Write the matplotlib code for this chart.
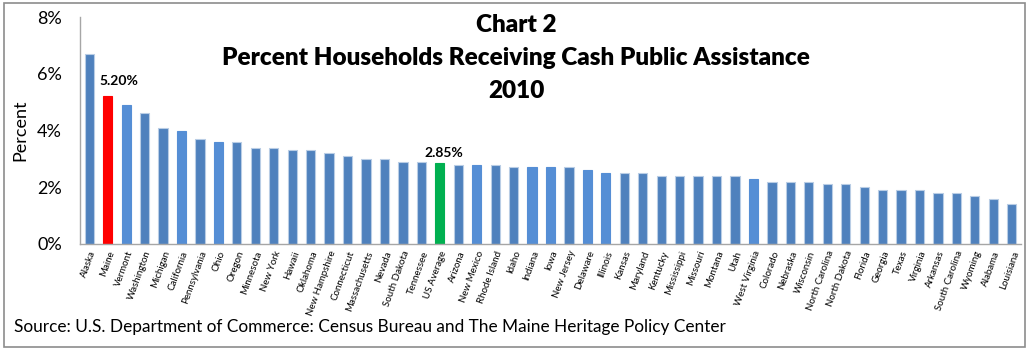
import matplotlib
matplotlib.use("Agg")
import matplotlib.pyplot as plt
from matplotlib.patches import Rectangle

plt.rcParams['font.family'] = ['Lato', 'DejaVu Sans']

# data (percent of households)
states = ['Alaska', 'Maine', 'Vermont', 'Washington', 'Michigan', 'California',
          'Pennsylvania', 'Ohio', 'Oregon', 'Minnesota', 'New York', 'Hawaii',
          'Oklahoma', 'New Hampshire', 'Connecticut', 'Massachusetts', 'Nevada',
          'South Dakota', 'Tennessee', 'US Average', 'Arizona', 'New Mexico',
          'Rhode Island', 'Idaho', 'Indiana', 'Iowa', 'New Jersey', 'Delaware',
          'Illinois', 'Kansas', 'Maryland', 'Kentucky', 'Mississippi', 'Missouri',
          'Montana', 'Utah', 'West Virginia', 'Colorado', 'Nebraska', 'Wisconsin',
          'North Carolina', 'North Dakota', 'Florida', 'Georgia', 'Texas',
          'Virginia', 'Arkansas', 'South Carolina', 'Wyoming', 'Alabama', 'Louisiana']
values = [6.7, 5.2, 4.9, 4.6, 4.1, 4.0,
          3.7, 3.6, 3.6, 3.4, 3.4, 3.3,
          3.3, 3.2, 3.1, 3.0, 3.0,
          2.9, 2.9, 2.85, 2.8, 2.8,
          2.8, 2.7, 2.7, 2.7, 2.7, 2.6,
          2.5, 2.5, 2.5, 2.4, 2.4, 2.4,
          2.4, 2.4, 2.3, 2.2, 2.2, 2.2,
          2.1, 2.1, 2.0, 1.9, 1.9,
          1.9, 1.8, 1.8, 1.7, 1.6, 1.4]
light_bars = ['Vermont', 'California', 'Ohio', 'New Mexico', 'Indiana', 'Iowa',
              'Delaware', 'Illinois', 'West Virginia']
labelled = {'Maine': '5.20%', 'US Average': '2.85%'}
# label offsets (x in categories, y in percent) as placed in the original
label_offsets = {'Maine': (0.6, 0.55), 'US Average': (0.2, 0.35)}

dark_blue = '#4F81BD'
light_blue = '#558ED5'

colors = []
edges = []
for s in states:
    if s == 'Maine':
        colors.append('#FF0000'); edges.append('#FF0000')
    elif s == 'US Average':
        colors.append('#00B050'); edges.append('#00B050')
    elif s in light_bars:
        colors.append(light_blue); edges.append(light_blue)
    else:
        colors.append(dark_blue); edges.append('#B9CDE5')

fig = plt.figure(figsize=(10.35, 3.53), dpi=100)
ax = fig.add_axes([80 / 1035, 1 - 244 / 353, 941 / 1035, 227 / 353])

x = range(len(states))
ax.bar(x, values, width=0.5, color=colors, edgecolor=edges, linewidth=0.8)

for i, s in enumerate(states):
    if s in labelled:
        dx, dy = label_offsets[s]
        ax.text(i + dx, values[i] + dy, labelled[s], ha='center', va='center',
                fontsize=10, fontweight='bold')

ax.set_xlim(-0.5, len(states) - 0.5)
ax.set_ylim(0, 8)
ax.set_yticks([0, 2, 4, 6, 8])
ax.set_yticklabels(['0%', '2%', '4%', '6%', '8%'], fontsize=13)
ax.set_xticks(list(x))
ax.set_xticklabels(states, rotation=70, ha='right', rotation_mode='anchor',
                   fontsize=7)
ax.tick_params(axis='both', length=0)
ax.tick_params(axis='y', pad=13)
ax.tick_params(axis='x', pad=4)

for side in ['top', 'right']:
    ax.spines[side].set_visible(False)
for side in ['left', 'bottom']:
    ax.spines[side].set_color('#A6A6A6')
    ax.spines[side].set_linewidth(1.0)

fig.text(20 / 1035, 1 - 130 / 353, 'Percent', rotation=90, ha='center',
         va='center', fontsize=13)

title_lines = ['Chart 2', 'Percent Households Receiving Cash Public Assistance', '2010']
for k, line in enumerate(title_lines):
    fig.text(516 / 1035, 1 - (25 + 33 * k) / 353, line, ha='center', va='center',
             fontsize=17.5, fontweight='heavy')

fig.text(14 / 1035, 1 - 327 / 353,
         'Source: U.S. Department of Commerce: Census Bureau and The Maine Heritage Policy Center',
         ha='left', va='center', fontsize=12.4)

fig.patches.append(Rectangle((4 / 1035, 6 / 353), 1021 / 1035, 344 / 353,
                             transform=fig.transFigure, fill=False,
                             edgecolor='#8C8C8C', linewidth=1.2))

fig.savefig('out.png', dpi=100)
